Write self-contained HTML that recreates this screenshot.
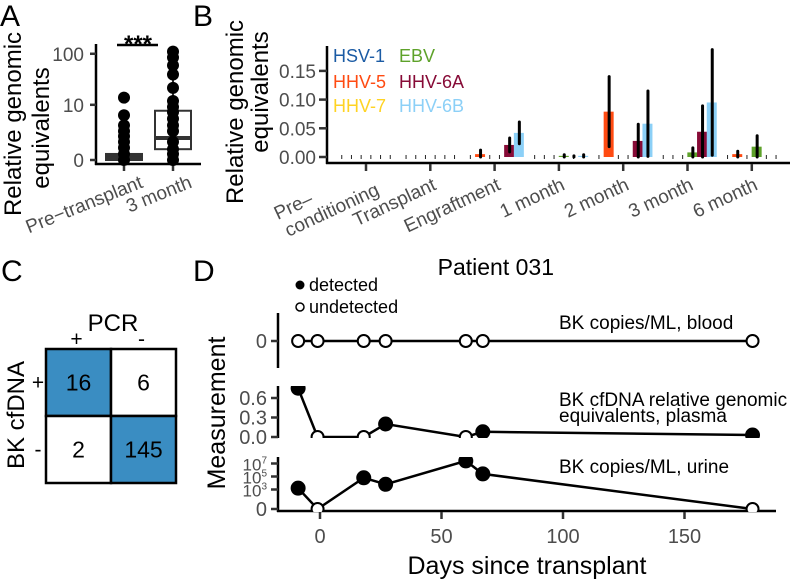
<!DOCTYPE html>
<html><head><meta charset="utf-8"><style>
html,body{margin:0;padding:0;background:#fff}
svg{display:block;font-family:"Liberation Sans",Arial,sans-serif}
</style></head><body>
<svg id="fig" width="792" height="579" viewBox="0 0 792 579" xmlns="http://www.w3.org/2000/svg">
<text x="0" y="26" font-size="30">A</text>
<text x="193" y="26" font-size="30">B</text>
<text x="1" y="281" font-size="30">C</text>
<text x="193" y="281" font-size="30">D</text>
<g id="pa"></g>
<g id="pb"></g>
<g id="pc"></g>
<g id="pd"></g>
</svg>
<script>
// ---------- data ----------
const aCategories = ["Pre\u2212transplant", "3 month"];
const aPreValues = [0, 0.3, 0.7, 1.2, 1.8, 2.5, 3.5, 6, 14];
const a3mValues = [0, 0.3, 0.6, 1.2, 2.5, 3.5, 5, 7, 9, 12, 22, 40, 60, 85, 110];
const aBoxPre = [0, 0, 0.05, 0.3, 0.5];
const aBox3m = [0.3, 0.6, 1.6, 7.5, 60];
const aTicks = [0, 10, 100];

const bCategories = ["Pre\u2013\nconditioning", "Transplant", "Engraftment", "1 month", "2 month", "3 month", "6 month"];
const bSeries = ["HSV-1", "HHV-5", "HHV-7", "EBV", "HHV-6A", "HHV-6B"];
const bColors = ["#1b5ba4", "#ff4b12", "#ffd323", "#5ea22a", "#870b37", "#8cd0f7"];
const bHSV1 = [0, 0, 0, 0, 0, 0, 0];
const bHHV5 = [0, 0, 0.005, 0, 0.079, 0, 0.005];
const bHHV7 = [0, 0, 0, 0, 0, 0, 0];
const bEBV = [0, 0, 0, 0.002, 0, 0.008, 0.018];
const bHHV6A = [0, 0, 0.021, 0.001, 0.028, 0.044, 0];
const bHHV6B = [0, 0, 0.042, 0.002, 0.058, 0.095, 0];
const bErrHHV5 = [0, 0, 0.007, 0, 0.061, 0, 0.005];
const bErrEBV = [0, 0, 0, 0.002, 0, 0.008, 0.019];
const bErrHHV6A = [0, 0, 0.012, 0.001, 0.029, 0.045, 0];
const bErrHHV6B = [0, 0, 0.019, 0.002, 0.057, 0.092, 0];
const bTicks = [0, 0.05, 0.10, 0.15];
const bTickLabels = ["0.00", "0.05", "0.10", "0.15"];

const cRows = ["+", "-"];
const cCols = ["+", "-"];
const cValues = [[16, 6], [2, 145]];

const dDays = [-9, -1, 18, 27, 60, 67, 178];
const dBlood = [0, 0, 0, 0, 0, 0, 0];
const dBloodDet = [0, 0, 0, 0, 0, 0, 0];
const dPlasma = [0.75, 0, 0, 0.2, 0, 0.08, 0.03];
const dPlasmaDet = [1, 0, 0, 1, 0, 1, 1];
const dUrine = [1600, 0, 63000, 6300, 25000000, 250000, 0];
const dUrineDet = [1, 0, 1, 1, 1, 1, 0];
const dXTicks = [0, 50, 100, 150];
const dPlasmaTicks = [0, 0.3, 0.6];
const dUrineTicks = [0, 1000, 100000, 10000000];
const dUrineTickExp = ["0", "3", "5", "7"];

const NS = "http://www.w3.org/2000/svg";
function mk(parent, tag, attrs, text) {
  const e = document.createElementNS(NS, tag);
  for (const k in attrs) e.setAttribute(k, attrs[k]);
  if (text !== undefined) e.textContent = text;
  parent.appendChild(e);
  return e;
}
const GRAY = "#4d4d4d";

// ---------- Panel A ----------
(function () {
  const g = document.getElementById('pa');
  const y = v => 160 - 53 * Math.log10(1 + v);
  const xc = [124, 173];
  let t;
  t = mk(g, 'text', {x: 0, y: 0, 'font-size': 24, 'text-anchor': 'middle', transform: 'translate(21,124) rotate(-90)'}, 'Relative genomic');
   
  t = mk(g, 'text', {x: 0, y: 0, 'font-size': 24, 'text-anchor': 'middle', transform: 'translate(49,128) rotate(-90)'}, 'equivalents');
   
  let l = mk(g, 'line', {x1: 96, y1: 44, x2: 96, y2: 165, stroke: '#000', 'stroke-width': 2.5});
   
  l = mk(g, 'line', {x1: 95, y1: 164, x2: 201, y2: 164, stroke: '#000', 'stroke-width': 2.5});
   
  aTicks.forEach(v => {
    mk(g, 'line', {x1: 90, y1: y(v), x2: 96, y2: y(v), stroke: '#333', 'stroke-width': 2.5});
    const tt = mk(g, 'text', {x: 84, y: y(v) + 7, 'font-size': 19, fill: GRAY, 'text-anchor': 'end'}, String(v));
     
  });
  aCategories.forEach((c, i) => {
    mk(g, 'line', {x1: xc[i], y1: 165, x2: xc[i], y2: 171, stroke: '#333', 'stroke-width': 2.5});
    const tt = mk(g, 'text', {x: 0, y: 0, 'font-size': 19, fill: GRAY, 'text-anchor': 'end', transform: `translate(${xc[i] + 20},187) rotate(-22)`}, c);
     
  });
  [aBoxPre, aBox3m].forEach((b, i) => {
    const x = xc[i];
    mk(g, 'line', {x1: x, y1: y(b[4]), x2: x, y2: y(b[3]), stroke: '#333', 'stroke-width': 2});
    const r = mk(g, 'rect', {x: x - 18, y: y(b[3]), width: 36, height: Math.max(2, y(b[1]) - y(b[3])), fill: i === 0 ? '#333' : 'none', stroke: '#333', 'stroke-width': 2});
     
    mk(g, 'line', {x1: x - 18, y1: y(b[2]), x2: x + 18, y2: y(b[2]), stroke: '#333', 'stroke-width': 4});
  });
  [aPreValues, a3mValues].forEach((arr, i) => {
    arr.forEach(v => {
      const c = mk(g, 'circle', {cx: xc[i], cy: y(v), r: 6, fill: '#000'});
       
    });
  });
  l = mk(g, 'line', {x1: 117, y1: 45, x2: 158, y2: 45, stroke: '#000', 'stroke-width': 2.5});
   
  t = mk(g, 'text', {x: 138, y: 52, 'font-size': 24, 'font-weight': 'bold', 'text-anchor': 'middle'}, '***');
   
})();

// ---------- Panel B ----------
(function () {
  const g = document.getElementById('pb');
  const y0 = 157, k = 28.7 / 0.05;
  const y = v => y0 - v * k;
  const x0 = 366, step = 64.3, bw = 9.7;
  const gx = i => x0 + i * step;
  let t;
  t = mk(g, 'text', {x: 0, y: 0, 'font-size': 24, 'text-anchor': 'middle', transform: 'translate(243,112) rotate(-90)'}, 'Relative genomic');
   
  t = mk(g, 'text', {x: 0, y: 0, 'font-size': 24, 'text-anchor': 'middle', transform: 'translate(268,92) rotate(-90)'}, 'equivalents');
   
  let l = mk(g, 'line', {x1: 327, y1: 46, x2: 327, y2: 164, stroke: '#000', 'stroke-width': 2.5});
   
  l = mk(g, 'line', {x1: 326, y1: 163, x2: 790, y2: 163, stroke: '#000', 'stroke-width': 2.5});
   
  bTicks.forEach((v, i) => {
    mk(g, 'line', {x1: 319, y1: y(v), x2: 327, y2: y(v), stroke: '#333', 'stroke-width': 2.5});
    const tt = mk(g, 'text', {x: 316, y: y(v) + 7, 'font-size': 19, fill: GRAY, 'text-anchor': 'end'}, bTickLabels[i]);
     
  });
  bCategories.forEach((c, i) => {
    mk(g, 'line', {x1: gx(i), y1: 164, x2: gx(i), y2: 171, stroke: '#333', 'stroke-width': 2.5});
    const lines = c.split('\n');
    const tt = mk(g, 'text', {x: 0, y: 0, 'font-size': 19, fill: GRAY, 'text-anchor': 'end'});
     
    if (lines.length > 1) {
      tt.setAttribute('transform', `translate(${gx(i) + 6},176) rotate(-25)`);
      mk(tt, 'tspan', {x: -104, y: 0, 'text-anchor': 'start'}, lines[0]);
      mk(tt, 'tspan', {x: 0, y: 20, 'text-anchor': 'end'}, lines[1]);
    } else {
      tt.setAttribute('transform', `translate(${gx(i) + 7},189) rotate(-25)`);
      tt.textContent = c;
    }
  });
  const vals = [bHSV1, bHHV5, bHHV7, bEBV, bHHV6A, bHHV6B];
  const errs = [null, bErrHHV5, null, bErrEBV, bErrHHV6A, bErrHHV6B];
  bCategories.forEach((c, i) => {
    vals.forEach((arr, s) => {
      const x = gx(i) + (s - 2.5) * bw;
      const v = arr[i];
      if (v > 0.0015) {
        const r = mk(g, 'rect', {x: x - 5, y: y(v), width: 10, height: y0 - y(v), fill: bColors[s]});
         
      } else {
        const r = mk(g, 'line', {x1: x, y1: y0 - 2, x2: x, y2: y0 + 2, stroke: '#222', 'stroke-width': 1});
         
      }
      const e = errs[s] ? errs[s][i] : 0;
      if (e > 0) {
        const el = mk(g, 'line', {x1: x + 0.5, y1: y(v + e), x2: x + 0.5, y2: y(Math.max(0, v - e)), stroke: '#000', 'stroke-width': 3, 'stroke-linecap': 'round'});
         
      }
    });
  });
  const lx = [333, 399], ly = [62, 88, 112];
  bSeries.forEach((s, i) => {
    const col = i < 3 ? 0 : 1, row = i % 3;
    const tt = mk(g, 'text', {x: lx[col], y: ly[row], 'font-size': 18, fill: bColors[i]}, s);
     
  });
})();

// ---------- Panel C ----------
(function () {
  const g = document.getElementById('pc');
  const X0 = 46, Y0 = 349, W = 65, H = 67;
  let t = mk(g, 'text', {x: 113, y: 331, 'font-size': 24, 'text-anchor': 'middle'}, 'PCR');
   
  t = mk(g, 'text', {x: 0, y: 0, 'font-size': 24, 'text-anchor': 'middle', transform: 'translate(24,415) rotate(-90)'}, 'BK cfDNA');
   
  cCols.forEach((c, j) => {
    const tt = mk(g, 'text', {x: X0 + W * j + W / 2 - 2, y: 346, 'font-size': 21, 'text-anchor': 'middle'}, c);
     
  });
  cRows.forEach((r, i) => {
    const tt = mk(g, 'text', {x: 38, y: Y0 + H * i + H / 2 + 7, 'font-size': 21, 'text-anchor': 'middle'}, r);
     
    cCols.forEach((c, j) => {
      const v = cValues[i][j];
      const rc = mk(g, 'rect', {x: X0 + W * j, y: Y0 + H * i, width: W, height: H, fill: v > 10 ? '#3a8dc2' : '#fff', stroke: '#000', 'stroke-width': 2.5});
       
      const vt = mk(g, 'text', {x: X0 + W * j + W / 2, y: Y0 + H * i + H / 2 + 8, 'font-size': 23, 'text-anchor': 'middle'}, String(v));
       
    });
  });
})();

// ---------- Panel D ----------
(function () {
  const g = document.getElementById('pd');
  const xs = d => 320 + d * 2.43;
  const yb = v => 341;
  const yp = v => 437 - v * 65;
  const yu = v => 509 - 6.5 * Math.log10(1 + v);
  let t = mk(g, 'text', {x: 554, y: 275, 'font-size': 23, 'text-anchor': 'end'}, 'Patient 031');
   
  let c = mk(g, 'circle', {cx: 300, cy: 285, r: 4.5, fill: '#000'});
   
  t = mk(g, 'text', {x: 309, y: 291, 'font-size': 18}, 'detected');
   
  c = mk(g, 'circle', {cx: 300, cy: 307, r: 4, fill: '#fff', stroke: '#000', 'stroke-width': 1.5});
   
  t = mk(g, 'text', {x: 309, y: 313, 'font-size': 18}, 'undetected');
   
  t = mk(g, 'text', {x: 0, y: 0, 'font-size': 25, 'text-anchor': 'middle', transform: 'translate(225,413) rotate(-90)'}, 'Measurement');
   
  t = mk(g, 'text', {x: 527, y: 574, 'font-size': 25, 'text-anchor': 'middle'}, 'Days since transplant');
   
  [[313, 368], [386, 438], [457, 512]].forEach((r, i) => {
    const l = mk(g, 'line', {x1: 278, y1: r[0], x2: 278, y2: r[1], stroke: '#000', 'stroke-width': 2.5});
     
  });
  let l = mk(g, 'line', {x1: 277, y1: 511, x2: 776, y2: 511, stroke: '#000', 'stroke-width': 2.5});
   
  dXTicks.forEach(d => {
    mk(g, 'line', {x1: xs(d), y1: 512, x2: xs(d), y2: 519, stroke: '#333', 'stroke-width': 2.5});
    const tt = mk(g, 'text', {x: xs(d), y: 543, 'font-size': 20, fill: GRAY, 'text-anchor': 'middle'}, String(d));
     
  });
  function ytick(yy, label, sup) {
    mk(g, 'line', {x1: 271, y1: yy, x2: 278, y2: yy, stroke: '#333', 'stroke-width': 2.5});
    const tt = mk(g, 'text', {x: 267, y: yy + 7, 'font-size': sup ? 17 : 20, fill: GRAY, 'text-anchor': 'end'});
     
    if (sup) { mk(tt, 'tspan', {}, '10'); mk(tt, 'tspan', {'font-size': 10, dy: -7}, sup); }
    else tt.textContent = label;
  }
  ytick(341, '0');
  dPlasmaTicks.forEach(v => ytick(yp(v), v.toFixed(1)));
  dUrineTicks.forEach((v, i) => ytick(yu(v), '0', i === 0 ? null : dUrineTickExp[i]));
  const defs = mk(g, 'defs', {});
  [['cp1', 386, 52], ['cp2', 457, 55]].forEach(a => {
    const cp = mk(defs, 'clipPath', {id: a[0]});
    mk(cp, 'rect', {x: 278, y: a[1], width: 500, height: a[2]});
  });
  function series(vals, det, yf, name, clip) {
    const gg = mk(g, 'g', clip ? {'clip-path': `url(#${clip})`} : {});
     
    const pts = dDays.map((d, i) => xs(d) + ',' + yf(vals[i])).join(' ');
    const pl = mk(gg, 'polyline', {points: pts, fill: 'none', stroke: '#000', 'stroke-width': 2.5});
     
    dDays.forEach((d, i) => {
      const cc = mk(gg, 'circle', {cx: xs(d), cy: yf(vals[i]), r: det[i] ? 6.5 : 6, fill: det[i] ? '#000' : '#fff', stroke: '#000', 'stroke-width': 2});
       
    });
  }
  series(dBlood, dBloodDet, yb, 'd-blood-series', null);
  series(dPlasma, dPlasmaDet, yp, 'd-plasma-series', 'cp1');
  series(dUrine, dUrineDet, yu, 'd-urine-series', 'cp2');
  [['BK copies/ML, blood', 329], ['BK cfDNA relative genomic', 406], ['equivalents, plasma', 422], ['BK copies/ML, urine', 473]].forEach(a => {
    const tt = mk(g, 'text', {x: 559, y: a[1], 'font-size': 19}, a[0]);
     
  });
})();
</script>
</body></html>
